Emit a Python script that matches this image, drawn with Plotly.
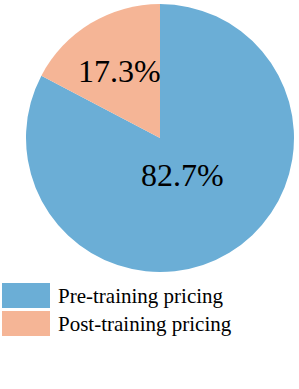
import math
import plotly.graph_objects as go

labels = ["Pre-training pricing", "Post-training pricing"]
values = [82.7, 17.3]
colors = ["#6BAED6", "#F5B596"]

W, H = 299, 389
CX, CY, R = 160, 138, 134
label_r = [0.32, 0.58]

fig = go.Figure(go.Pie(
    labels=labels, values=values, sort=False, direction="clockwise", rotation=0,
    marker=dict(colors=colors, line=dict(width=0)),
    textinfo="none",
    domain=dict(x=[(CX-R)/W, (CX+R)/W], y=[1-(CY+R)/H, 1-(CY-R)/H]),
    showlegend=False, hoverinfo="label+percent",
))

# percentage labels placed at slice mid-angles
total = sum(values)
cum = 0.0
for v, fr in zip(values, label_r):
    mid = 90 - 360 * (cum + v / 2) / total
    cum += v
    px = CX + fr * R * math.cos(math.radians(mid))
    py = CY - fr * R * math.sin(math.radians(mid))
    fig.add_annotation(xref="paper", yref="paper", x=px/W, y=1-py/H,
                       xanchor="center", yanchor="middle", showarrow=False,
                       text=f"{100*v/total:.1f}%",
                       font=dict(family="Liberation Serif", size=32, color="black"))

# manual legend
leg_y = [[283, 308], [311, 336]]
for (y0, y1), lab, c in zip(leg_y, labels, colors):
    fig.add_shape(type="rect", xref="paper", yref="paper",
                  x0=2/W, x1=50/W, y0=1-y1/H, y1=1-y0/H,
                  fillcolor=c, line=dict(width=0))
    fig.add_annotation(xref="paper", yref="paper", x=56/W, y=1-(y0+y1)/2/H,
                       xanchor="left", yanchor="middle", text=lab, showarrow=False,
                       font=dict(family="Liberation Serif", size=21, color="black"))

fig.update_layout(width=W, height=H, margin=dict(l=0, r=0, t=0, b=0),
                  paper_bgcolor="white", plot_bgcolor="white")
fig.write_html("out.html", config={"displayModeBar": False},
               post_script="document.body.style.margin='0';")
